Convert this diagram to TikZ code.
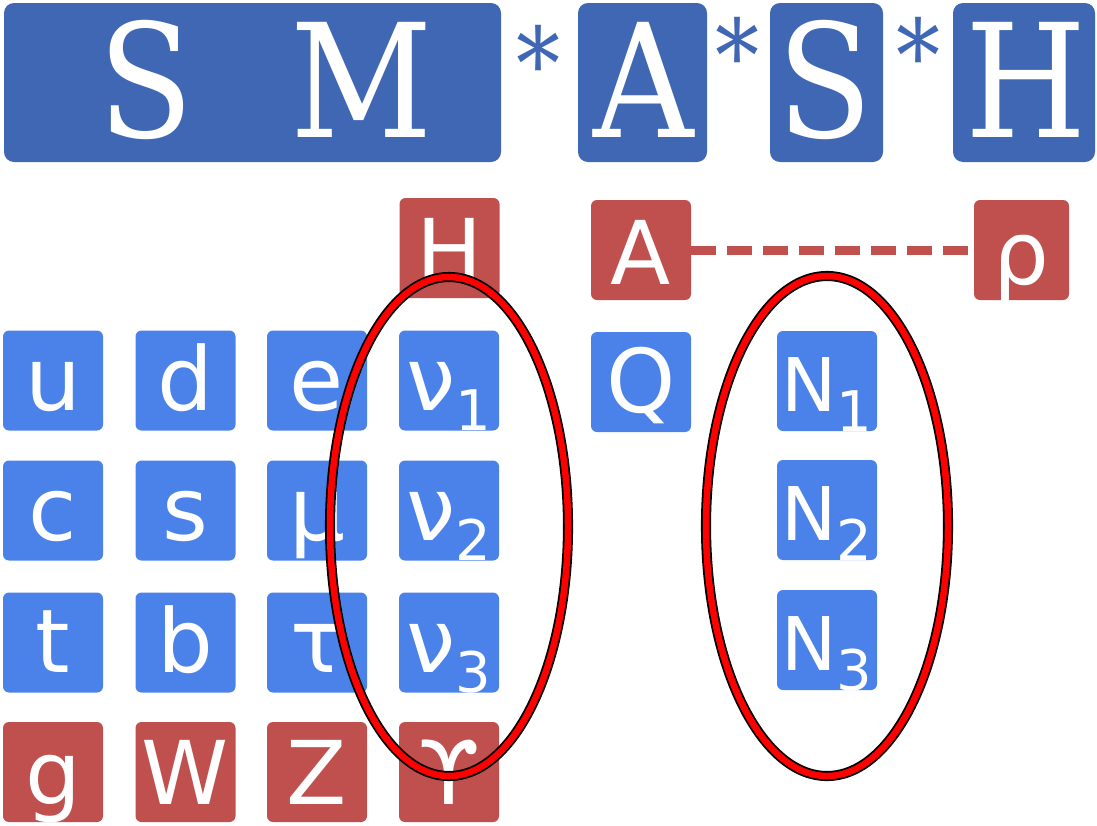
\documentclass[tikz,border=0pt]{standalone}
\usepackage{fontspec}
\setmainfont{DejaVu Serif}
\newfontfamily\topserif[FakeStretch=0.88]{DejaVu Serif}
\newfontfamily\sansf{DejaVu Sans}
\usetikzlibrary{shapes.geometric}
\definecolor{topblue}{HTML}{3F67B3}
\definecolor{cellblue}{HTML}{4A82EA}
\definecolor{cellred}{HTML}{C0504D}
\definecolor{ringred}{HTML}{FF0000}
\newcommand\fsz[1]{\fontsize{#1}{#1}\selectfont}
\newcommand\subd[1]{\raisebox{-20pt}{\fsz{56}#1}}
\begin{document}
\begin{tikzpicture}[x=1pt,y=-1pt,
  topbox/.style={fill=topblue, rounded corners=10pt, inner sep=0pt, minimum height=159pt},
  topletter/.style={anchor=base, inner sep=0pt, text=white, font=\topserif\fsz{158}},
  star/.style={inner sep=0pt, text=topblue, font=\topserif\fsz{100}, text height=40pt, text depth=0pt},
  cell/.style={fill=cellblue, rounded corners=6pt, minimum width=100pt, minimum height=100pt,
    inner sep=0pt, text=white, font=\sansf\fsz{88}, text height=60pt, text depth=0pt},
  ncell/.style={cell, font=\sansf\fsz{74}},
  redcell/.style={cell, fill=cellred, text height=68pt},
  ring/.style={ellipse, draw=black, line width=1.8pt, double=ringred, double distance=6.5pt,
    inner sep=0pt},
  link/.style={draw=cellred, line width=9pt, dash pattern=on 25pt off 11pt}
]
\useasboundingbox (0,0) rectangle (1097,825);
% top row
\node[topbox, minimum width=497pt] (smbox) at (252.5,82.5) {};
\node[topbox, minimum width=129pt] (abox) at (642.5,82.5) {};
\node[topbox, minimum width=113pt] (sbox) at (826.5,82.5) {};
\node[topbox, minimum width=142pt] (hbox) at (1024,82.5) {};
\node[topletter] (tS) at (146,137) {S};
\node[topletter] (tM) at (362,137) {M};
\node[topletter] (tA) at (644,137) {A};
\node[topletter] (tS2) at (825.5,137) {S};
\node[topletter] (tH) at (1026.5,137) {H};
\node[star] (st1) at (538,79) {*};
\node[star] (st2) at (737,71) {*};
\node[star] (st3) at (918,71) {*};
% red row
\node[redcell] (rH) at (449.5,248) {H};
\node[redcell] (rA) at (641,250) {A};
\node[redcell, minimum width=95pt] (rrho) at (1021.5,250) {ρ};
\draw[link] (rA.east) -- (rrho.west);
% grid
\node[cell] (u) at (53,380.5) {u};
\node[cell] (d) at (185.5,380.5) {d};
\node[cell] (e) at (317,380.5) {e};
\node[cell] (nu1) at (449,380.5) {ν\subd{1}};
\node[cell] (c) at (53,510.5) {c};
\node[cell] (s) at (185.5,510.5) {s};
\node[cell] (mu) at (317,510.5) {μ};
\node[cell] (nu2) at (449,510.5) {ν\subd{2}};
\node[cell] (t) at (53,642.5) {t};
\node[cell] (b) at (185.5,642.5) {b};
\node[cell] (tau) at (317,642.5) {τ};
\node[cell] (nu3) at (449,642.5) {ν\subd{3}};
\node[redcell, text height=64pt] (g) at (53,772) {g};
\node[redcell, text height=64pt] (W) at (185.5,772) {W};
\node[redcell, text height=64pt] (Z) at (317,772) {Z};
\node[redcell, text height=64pt] (gam) at (449,772) {ϒ};
\node[cell] (Q) at (641,382) {Q};
\node[ncell] (N1) at (827,381) {N\subd{1}};
\node[ncell] (N2) at (827,510) {N\subd{2}};
\node[ncell] (N3) at (827,640) {N\subd{3}};
% rings
\node[ring, minimum width=238pt, minimum height=499pt] (ringnu) at (449,526.5) {};
\node[ring, minimum width=242pt, minimum height=500pt] (ringN) at (827,526) {};
\end{tikzpicture}
\end{document}
